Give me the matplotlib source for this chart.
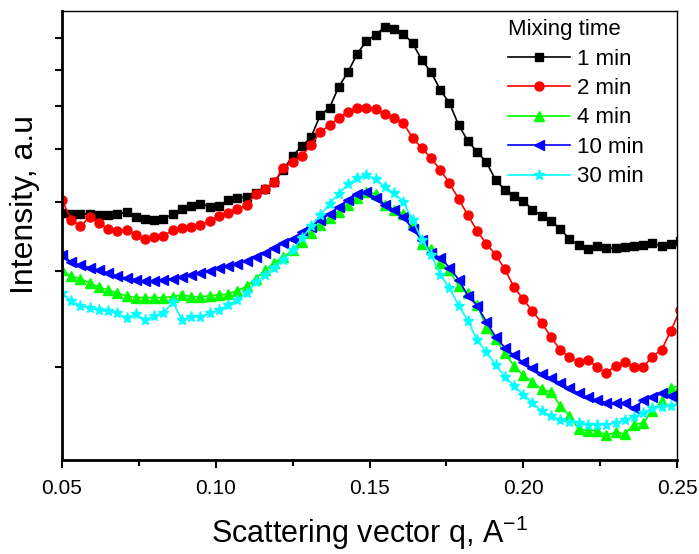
import numpy as np
import matplotlib
matplotlib.use('Agg')
import matplotlib.pyplot as plt
from matplotlib.ticker import FixedLocator, NullFormatter, NullLocator, MultipleLocator, FormatStrFormatter

plt.rcParams['font.family'] = ['Liberation Sans', 'DejaVu Sans']
plt.rcParams['mathtext.default'] = 'regular'

# scattering vector grid, A^-1
q = np.round(0.05 + 0.003*np.arange(68), 3)

# intensity (a.u.)
min1 = [3.83, 3.81, 3.81, 3.81, 3.79, 3.79, 3.81, 3.84, 3.76, 3.73,
        3.72, 3.73, 3.81, 3.89, 3.94, 3.98, 3.93, 3.94, 4.04, 4.08,
        4.09, 4.16, 4.23, 4.36, 4.59, 4.87, 5.07, 5.27, 5.78, 5.96,
        6.51, 6.93, 7.48, 7.90, 8.10, 8.38, 8.31, 8.14, 7.83, 7.29,
        6.93, 6.43, 6.08, 5.54, 5.18, 4.95, 4.74, 4.40, 4.22, 4.11,
        4.03, 3.88, 3.78, 3.70, 3.58, 3.43, 3.34, 3.29, 3.33, 3.30,
        3.30, 3.32, 3.33, 3.34, 3.37, 3.33, 3.36, 3.40]
min2 = [4.04, 3.72, 3.62, 3.76, 3.67, 3.58, 3.55, 3.56, 3.49, 3.43,
        3.46, 3.47, 3.56, 3.59, 3.61, 3.64, 3.70, 3.78, 3.83, 3.89,
        3.96, 4.15, 4.23, 4.36, 4.63, 4.74, 4.87, 5.10, 5.38, 5.54,
        5.71, 5.86, 5.96, 5.96, 5.93, 5.81, 5.71, 5.59, 5.25, 5.03,
        4.82, 4.59, 4.34, 4.06, 3.79, 3.55, 3.36, 3.21, 3.02, 2.80,
        2.66, 2.53, 2.41, 2.27, 2.15, 2.09, 2.04, 2.06, 2.00, 1.95,
        2.01, 2.04, 2.00, 2.00, 2.09, 2.15, 2.33, 2.54]
min4 = [3.01, 2.93, 2.90, 2.85, 2.80, 2.77, 2.73, 2.70, 2.68, 2.68,
        2.68, 2.68, 2.69, 2.71, 2.69, 2.69, 2.70, 2.71, 2.72, 2.76,
        2.81, 2.90, 3.01, 3.10, 3.18, 3.27, 3.39, 3.52, 3.64, 3.75,
        3.84, 3.96, 4.08, 4.18, 4.15, 3.96, 3.88, 3.81, 3.68, 3.36,
        3.29, 3.10, 3.01, 2.81, 2.73, 2.60, 2.36, 2.25, 2.12, 2.01,
        1.93, 1.88, 1.82, 1.80, 1.70, 1.63, 1.54, 1.53, 1.53, 1.50,
        1.52, 1.51, 1.57, 1.58, 1.66, 1.73, 1.83, 1.85]
min10 = [3.21, 3.11, 3.07, 3.04, 3.01, 2.97, 2.93, 2.91, 2.89, 2.87,
         2.87, 2.89, 2.90, 2.92, 2.95, 2.97, 3.00, 3.04, 3.06, 3.09,
         3.13, 3.18, 3.23, 3.30, 3.37, 3.43, 3.53, 3.61, 3.72, 3.81,
         3.93, 4.04, 4.15, 4.18, 4.08, 3.96, 3.88, 3.76, 3.58, 3.42,
         3.23, 3.17, 3.04, 2.89, 2.70, 2.59, 2.42, 2.27, 2.17, 2.10,
         2.04, 1.99, 1.94, 1.91, 1.87, 1.83, 1.79, 1.76, 1.74, 1.72,
         1.72, 1.72, 1.68, 1.74, 1.76, 1.79, 1.77, 1.80]
min30 = [2.73, 2.64, 2.59, 2.57, 2.54, 2.53, 2.51, 2.46, 2.50, 2.44,
         2.48, 2.51, 2.63, 2.44, 2.47, 2.47, 2.51, 2.54, 2.60, 2.65,
         2.73, 2.86, 2.95, 3.04, 3.14, 3.27, 3.44, 3.62, 3.79, 3.98,
         4.15, 4.32, 4.43, 4.49, 4.42, 4.27, 4.16, 4.01, 3.72, 3.42,
         3.21, 2.95, 2.79, 2.59, 2.43, 2.24, 2.13, 2.02, 1.92, 1.85,
         1.78, 1.72, 1.66, 1.63, 1.60, 1.59, 1.58, 1.57, 1.57, 1.57,
         1.58, 1.60, 1.62, 1.65, 1.68, 1.69, 1.70, 1.71]

labels = ['1 min', '2 min', '4 min', '10 min', '30 min']

fig = plt.figure(figsize=(6.99, 5.54), dpi=100)
ax = fig.add_axes([62/699, 1 - 460/554, 615/699, 449/554])

ax.plot(q, min1, color='black', marker='s', ms=6, lw=1.2, label=labels[0])
ax.plot(q, min2, color='red', marker='o', ms=6.5, lw=1.2, label=labels[1])
ax.plot(q, min4, color='#00ff00', marker='^', ms=7, lw=1.2, label=labels[2])
ax.plot(q, min10, color='blue', marker='<', ms=7, lw=1.2, label=labels[3])
ax.plot(q, min30, color='cyan', marker='*', ms=8, lw=1.2, label=labels[4])

ax.set_yscale('log')
ax.set_xlim(0.05, 0.25)
ax.set_ylim(1.352, 8.96)
ax.yaxis.set_major_locator(FixedLocator([2, 3, 4, 5, 6, 7, 8]))
ax.yaxis.set_major_formatter(NullFormatter())
ax.yaxis.set_minor_locator(NullLocator())
ax.yaxis.set_minor_formatter(NullFormatter())
ax.xaxis.set_major_locator(MultipleLocator(0.05))
ax.xaxis.set_minor_locator(MultipleLocator(0.025))
ax.xaxis.set_major_formatter(FormatStrFormatter('%.2f'))

ax.tick_params(which='major', direction='out', length=6, width=1.5, labelsize=15, pad=8)
ax.tick_params(which='minor', direction='out', length=4, width=1.5)
ax.tick_params(axis='y', length=5)

for s in ['left', 'bottom']:
    ax.spines[s].set_linewidth(2)
for s in ['top', 'right']:
    ax.spines[s].set_linewidth(1)

ax.set_xlabel('Scattering vector q, A$^{-1}$', fontsize=22, labelpad=11)
ax.set_ylabel('Intensity, a.u', fontsize=23)
ax.yaxis.set_label_coords(-0.036, 0.57)

leg = ax.legend(title='Mixing time', frameon=False, loc='upper left',
                bbox_to_anchor=(0.722, 0.987), fontsize=16, title_fontsize=16,
                handlelength=2.8, handletextpad=0.3, labelspacing=0.38,
                borderpad=0.1, borderaxespad=0, alignment='left')

fig.savefig('out.png', dpi=100)
